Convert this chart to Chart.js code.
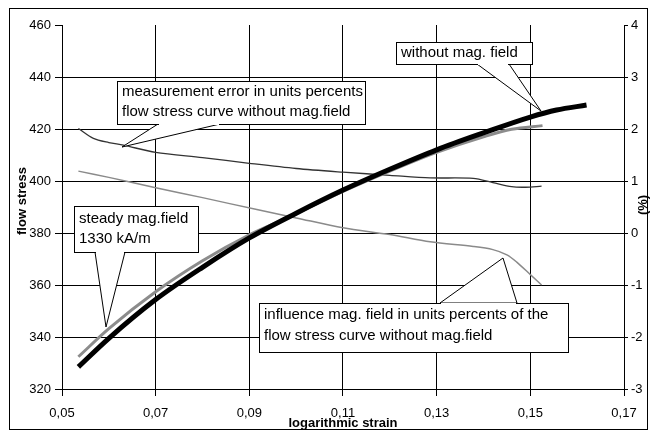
<!DOCTYPE html>
<html>
<head>
<meta charset="utf-8">
<script src="https://cdn.jsdelivr.net/npm/chart.js@4.4.1/dist/chart.umd.min.js"></script>
<style>
  html, body { margin: 0; padding: 0; background: #fff; }
  #wrap { width: 651px; height: 433px; }
</style>
</head>
<body>
<div id="wrap"><canvas id="flowChart" width="651" height="433"></canvas></div>
<script>
// tick labels
const strainTicks = [0.05, 0.07, 0.09, 0.11, 0.13, 0.15, 0.17]
const stressTicks = [320, 340, 360, 380, 400, 420, 440, 460]
const percentTicks = [-3, -2, -1, 0, 1, 2, 3, 4]

// flow stress without magnetic field (left axis)
const strainNoField = [0.0535, 0.06, 0.07, 0.08, 0.09, 0.10, 0.11, 0.12, 0.13, 0.14, 0.15, 0.1556, 0.162]
const stressNoField = [328.5, 339.5, 354.4, 366.8, 378.1, 387.6, 396.5, 404.5, 412.0, 418.5, 424.6, 427.3, 429.2]

// flow stress with steady field 1330 kA/m (left axis)
const strainField = [0.0535, 0.06, 0.07, 0.08, 0.09, 0.0987, 0.11, 0.12, 0.13, 0.14, 0.146, 0.1526]
const stressField = [332.4, 343.2, 357.4, 369.3, 379.3, 386.3, 396.0, 403.8, 411.0, 417.0, 419.9, 421.3]

// measurement error in % (right axis)
const strainError = [0.0535, 0.0567, 0.06, 0.0631, 0.07, 0.08, 0.09, 0.10, 0.11, 0.12, 0.1286, 0.1378, 0.142, 0.146, 0.149, 0.1524]
const errorPercent = [2.01, 1.82, 1.74, 1.69, 1.55, 1.45, 1.34, 1.24, 1.17, 1.11, 1.06, 1.05, 0.97, 0.89, 0.88, 0.90]

// influence of the field in % (right axis)
const strainInfluence = [0.0535, 0.06, 0.07, 0.08, 0.0916, 0.10, 0.11, 0.12, 0.1286, 0.1378, 0.142, 0.145, 0.1471, 0.15, 0.1524]
const influencePercent = [1.19, 1.07, 0.87, 0.68, 0.45, 0.29, 0.10, -0.03, -0.17, -0.26, -0.32, -0.42, -0.56, -0.80, -1.0]

const FONT = "'Liberation Sans', Arial, sans-serif"

function toPoints(xs, ys) {
    return xs.map((x, i) => ({ x: x, y: ys[i] }))
}

// text boxes with pointers, in canvas pixels
const callouts = [
    { box: [117, 81, 365, 124], base: [158, 220], tip: [122, 147],
      lines: ['measurement error in units percents', 'flow stress curve without mag.field'], lineY: [92, 112] },
    { box: [396, 42, 532, 64], base: [477, 509], tip: [541, 111],
      lines: ['without mag. field'], lineY: [53] },
    { box: [74, 206, 198, 252], base: [95, 125], tip: [106, 327],
      lines: ['steady mag.field', '1330 kA/m'], lineY: [219, 239] },
    { box: [259, 303, 568, 352], base: [440, 517], tip: [503, 258],
      lines: ['influence mag. field in units percents of the', 'flow stress curve without mag.field'], lineY: [315, 336] }
]

const decorPlugin = {
    id: 'decor',
    beforeDraw(chart) {
        const ctx = chart.ctx
        ctx.save()
        ctx.fillStyle = '#fff'
        ctx.fillRect(0, 0, chart.width, chart.height)
        ctx.strokeStyle = '#000'
        ctx.lineWidth = 1
        ctx.strokeRect(9.5, 8.5, 638, 421)
        ctx.restore()
    },
    afterDraw(chart) {
        const ctx = chart.ctx
        const area = chart.chartArea
        ctx.save()

        // axis titles
        ctx.fillStyle = '#000'
        ctx.font = 'bold 13px ' + FONT
        ctx.textAlign = 'center'
        ctx.textBaseline = 'middle'
        ctx.fillText('logarithmic strain', (area.left + area.right) / 2, 423)
        ctx.save()
        ctx.translate(22, 201)
        ctx.rotate(-Math.PI / 2)
        ctx.fillText('flow stress', 0, 0)
        ctx.restore()
        ctx.save()
        ctx.translate(643, 205)
        ctx.rotate(-Math.PI / 2)
        ctx.fillText('(%)', 0, 0)
        ctx.restore()

        // callouts
        ctx.font = '15px ' + FONT
        ctx.textAlign = 'left'
        ctx.lineWidth = 1
        callouts.forEach(c => {
            const [l, t, r, b] = c.box
            const onTop = c.tip[1] < t
            const edgeY = onTop ? t : b
            ctx.fillStyle = '#fff'
            ctx.strokeStyle = '#000'
            ctx.beginPath()
            ctx.moveTo(c.base[0], edgeY)
            ctx.lineTo(c.tip[0], c.tip[1])
            ctx.lineTo(c.base[1], edgeY)
            ctx.closePath()
            ctx.fill()
            ctx.stroke()
            ctx.fillRect(l + 0.5, t + 0.5, r - l, b - t)
            ctx.strokeRect(l + 0.5, t + 0.5, r - l, b - t)
            // open the edge where the pointer leaves the box
            ctx.strokeStyle = '#fff'
            ctx.beginPath()
            ctx.moveTo(c.base[0] + 1, edgeY + 0.5)
            ctx.lineTo(c.base[1] - 1, edgeY + 0.5)
            ctx.stroke()
            ctx.fillStyle = '#000'
            c.lines.forEach((txt, i) => ctx.fillText(txt, l + 5, c.lineY[i]))
        })
        ctx.restore()
    }
}

const chart = new Chart(document.getElementById('flowChart'), {
    type: 'scatter',
    data: {
        datasets: [
            {
                label: 'without mag. field',
                data: toPoints(strainNoField, stressNoField),
                yAxisID: 'y',
                showLine: true,
                borderColor: '#000',
                borderWidth: 5,
                pointRadius: 0,
                cubicInterpolationMode: 'monotone',
                order: 0
            },
            {
                label: 'steady mag.field 1330 kA/m',
                data: toPoints(strainField, stressField),
                yAxisID: 'y',
                showLine: true,
                borderColor: '#8c8c8c',
                borderWidth: 3,
                pointRadius: 0,
                cubicInterpolationMode: 'monotone',
                order: 1
            },
            {
                label: 'measurement error',
                data: toPoints(strainError, errorPercent),
                yAxisID: 'y1',
                showLine: true,
                borderColor: '#333',
                borderWidth: 1.3,
                pointRadius: 0,
                tension: 0.3,
                order: 2
            },
            {
                label: 'influence mag. field',
                data: toPoints(strainInfluence, influencePercent),
                yAxisID: 'y1',
                showLine: true,
                borderColor: '#8a8a8a',
                borderWidth: 1.5,
                pointRadius: 0,
                tension: 0.3,
                order: 3
            }
        ]
    },
    options: {
        responsive: false,
        animation: false,
        devicePixelRatio: 1,
        layout: { padding: { top: 25, left: 0, right: 0, bottom: 0 } },
        plugins: {
            legend: { display: false },
            tooltip: { enabled: false }
        },
        scales: {
            x: {
                type: 'linear',
                min: 0.05,
                max: 0.17,
                afterBuildTicks: scale => { scale.ticks = strainTicks.map(v => ({ value: v })) },
                afterFit: scale => { scale.height = 44 },
                border: { display: true, color: '#000', width: 1 },
                grid: { color: '#000', lineWidth: 1, tickLength: 7 },
                ticks: {
                    color: '#000',
                    padding: 10,
                    maxRotation: 0,
                    font: { family: FONT, size: 13 },
                    callback: v => v.toFixed(2).replace('.', ',')
                }
            },
            y: {
                position: 'left',
                min: 320,
                max: 460,
                afterBuildTicks: scale => { scale.ticks = stressTicks.map(v => ({ value: v })) },
                afterFit: scale => { scale.width = 62 },
                border: { display: true, color: '#000', width: 1 },
                grid: {
                    color: c => (c.tick && c.tick.value === 460) ? 'rgba(0,0,0,0)' : '#000',
                    tickColor: '#000',
                    lineWidth: 1,
                    tickLength: 7
                },
                ticks: { color: '#000', padding: 4, font: { family: FONT, size: 13 } }
            },
            y1: {
                position: 'right',
                min: -3,
                max: 4,
                afterBuildTicks: scale => { scale.ticks = percentTicks.map(v => ({ value: v })) },
                afterFit: scale => { scale.width = 27 },
                border: { display: true, color: '#000', width: 1 },
                grid: { drawOnChartArea: false, color: '#000', tickLength: 4 },
                ticks: { color: '#000', padding: 3, font: { family: FONT, size: 13 } }
            }
        }
    },
    plugins: [decorPlugin]
})
</script>
</body>
</html>
